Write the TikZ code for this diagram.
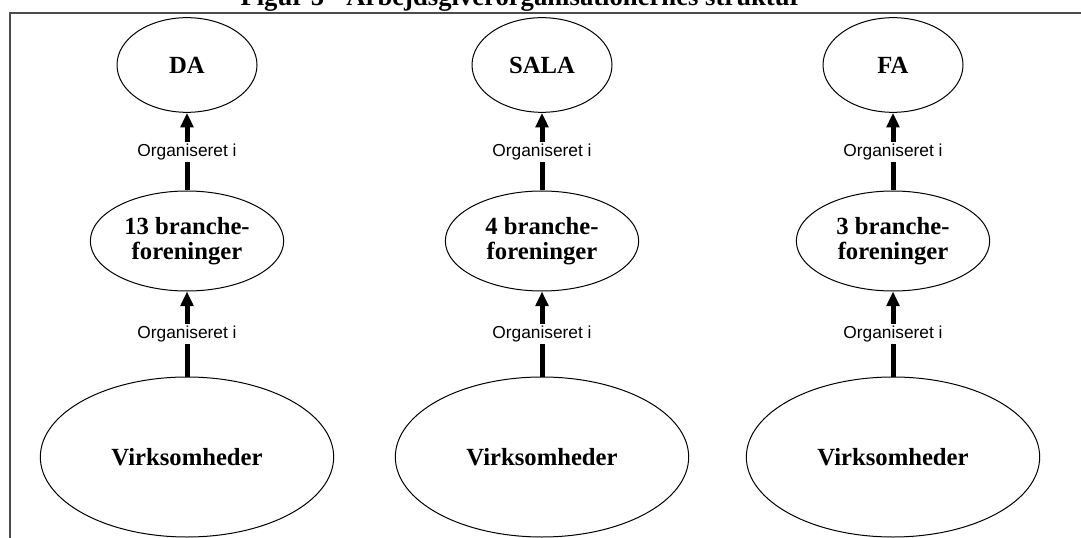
\documentclass[tikz,border=0pt]{standalone}
\usepackage{fontspec}
\setmainfont{Liberation Serif}
\newfontfamily\labelfont{Liberation Sans}
\usetikzlibrary{shapes.geometric,arrows.meta}

\tikzset{every picture/.style={line width=0.75pt}}
\tikzset{
  orgellipse/.style={draw, ellipse, inner sep=0pt, align=center,
    font=\fontsize{18.5}{19}\selectfont\bfseries},
  orgarrow/.style={line width=3.75pt, -{Triangle[width=9.5pt,length=11pt]}},
  orglabel/.style={fill=white, inner sep=1.5pt,
    font=\labelfont\fontsize{13}{14}\selectfont},
  frameline/.style={line width=1.5pt, color=black!70}
}

\begin{document}
\begin{tikzpicture}[x=0.75pt,y=0.75pt,yscale=-1,xscale=1]
\useasboundingbox (0,0) rectangle (1081,538);

% Title (cut at the top edge)
\node (title) [anchor=base, font=\fontsize{20}{22}\selectfont\bfseries] at (521,6) {Figur 5 - Arbejdsgiverorganisationernes struktur};
% Frame
\draw [frameline] (10,540) -- (10,13) -- (1083,13);

% Top level
\node (da)   [orgellipse, minimum width=105pt, minimum height=71pt] at (187,65) {DA};
\node (sala) [orgellipse, minimum width=105pt, minimum height=71pt] at (542,65) {SALA};
\node (fa)   [orgellipse, minimum width=105pt, minimum height=71pt] at (893,65) {FA};

% Branch associations
\node (bfda)   [orgellipse, minimum width=145pt, minimum height=75pt] at (187,241) {13 branche-\\foreninger};
\node (bfsala) [orgellipse, minimum width=145pt, minimum height=75pt] at (542,241) {4 branche-\\foreninger};
\node (bffa)   [orgellipse, minimum width=145pt, minimum height=75pt] at (893,241) {3 branche-\\foreninger};

% Companies
\node (virkda)   [orgellipse, minimum width=220pt, minimum height=120pt] at (187,457) {Virksomheder};
\node (virksala) [orgellipse, minimum width=220pt, minimum height=120pt] at (542,457) {Virksomheder};
\node (virkfa)   [orgellipse, minimum width=220pt, minimum height=120pt] at (893,457) {Virksomheder};

% Connectors
\foreach \low/\mid/\top in {virkda/bfda/da, virksala/bfsala/sala, virkfa/bffa/fa}{
  \draw [orgarrow] (\low) -- node [orglabel] {Organiseret i} (\mid);
  \draw [orgarrow] (\mid) -- node [orglabel] {Organiseret i} (\top);
}

\end{tikzpicture}
\end{document}
